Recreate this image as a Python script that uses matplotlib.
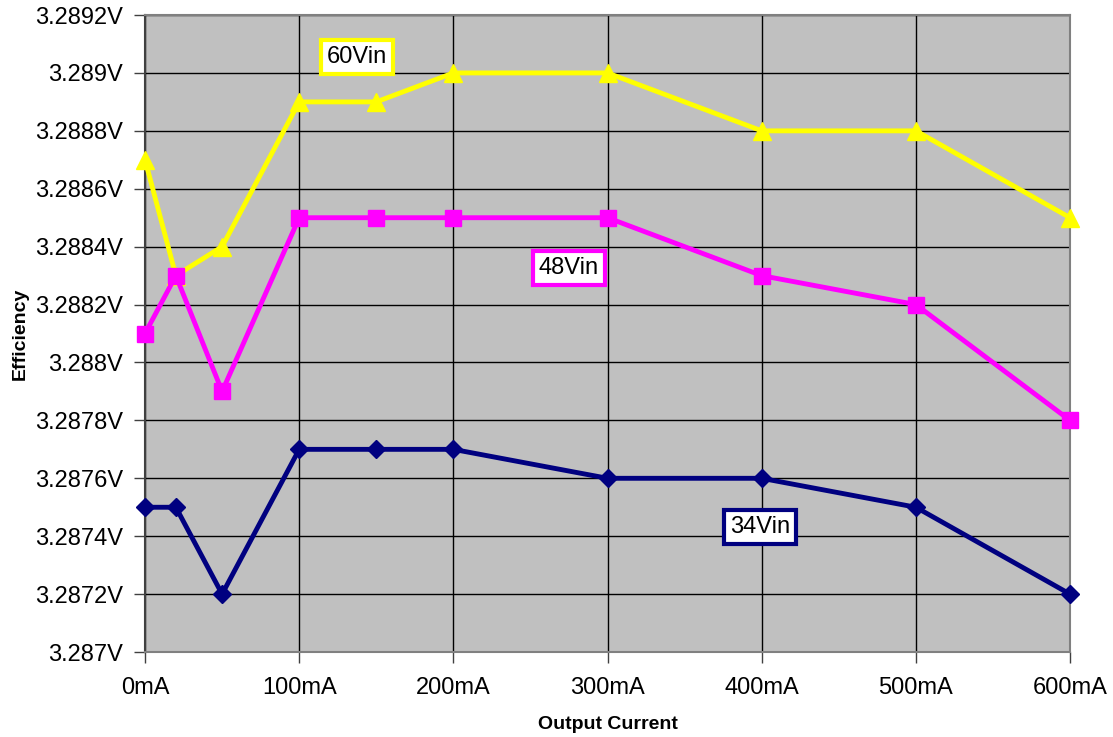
import matplotlib
matplotlib.use("Agg")
import matplotlib.pyplot as plt
from matplotlib.ticker import FuncFormatter, MultipleLocator

plt.rcParams['font.family'] = ['Liberation Sans', 'DejaVu Sans']

current_ma = [0, 20, 50, 100, 150, 200, 300, 400, 500, 600]
v60 = [3.2887, 3.2883, 3.2884, 3.2889, 3.2889, 3.2890, 3.2890, 3.2888, 3.2888, 3.2885]
v48 = [3.2881, 3.2883, 3.2879, 3.2885, 3.2885, 3.2885, 3.2885, 3.2883, 3.2882, 3.2878]
v34 = [3.2875, 3.2875, 3.2872, 3.2877, 3.2877, 3.2877, 3.2876, 3.2876, 3.2875, 3.2872]

x_ticks = [0, 100, 200, 300, 400, 500, 600]
x_tick_labels = ["0mA", "100mA", "200mA", "300mA", "400mA", "500mA", "600mA"]

fig = plt.figure(figsize=(11.13, 7.37), dpi=100)
ax = fig.add_axes([0.1303, 0.1153, 0.8311, 0.8643])
ax.set_facecolor('#C0C0C0')

ax.plot(current_ma, v60, color='#FFFF00', lw=3.5, marker='^', ms=13, zorder=3, clip_on=False)
ax.plot(current_ma, v48, color='#FF00FF', lw=3.5, marker='s', ms=11, zorder=3, clip_on=False)
ax.plot(current_ma, v34, color='#000080', lw=3.5, marker='D', ms=9, zorder=3, clip_on=False)

ax.set_xlim(0, 600)
ax.set_ylim(3.2870, 3.2892)
ax.set_xticks(x_ticks)
ax.set_xticklabels(x_tick_labels)
ax.yaxis.set_major_locator(MultipleLocator(0.0002))

def yfmt(v, pos):
    s = f"{v:.4f}".rstrip('0')
    return s + "V"
ax.yaxis.set_major_formatter(FuncFormatter(yfmt))

ax.grid(True, color='black', lw=1)
ax.set_axisbelow(True)
for sp in ax.spines.values():
    sp.set_color('#808080')
    sp.set_linewidth(1.5)
ax.spines['left'].set_color('#404040')
ax.tick_params(axis='both', labelsize=17, length=8, width=1, color='#404040', direction='out')
ax.tick_params(axis='x', pad=10)
ax.tick_params(axis='y', pad=8)

ax.set_xlabel("Output Current", fontsize=14, fontweight='bold', labelpad=12)
ax.set_ylabel("Efficiency", fontsize=14, fontweight='bold', labelpad=4)

def box(x, y, text, ec):
    ax.text(x, y, text, fontsize=17, ha='center', va='center', zorder=5,
            bbox=dict(boxstyle='square,pad=0.25', fc='white', ec=ec, lw=3))

box(137.5, 3.289055, "60Vin", '#FFFF00')
box(275, 3.288326, "48Vin", '#FF00FF')
box(399, 3.287431, "34Vin", '#000080')

fig.savefig("out.png", dpi=100)
